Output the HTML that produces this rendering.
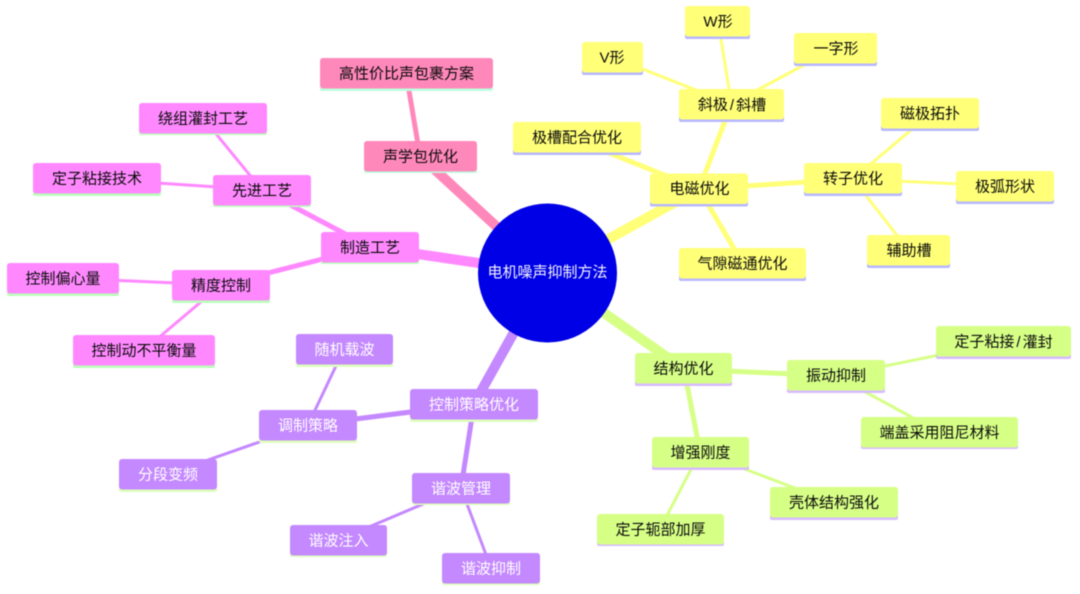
<!DOCTYPE html>
<html><head><meta charset="utf-8"><style>
html,body{margin:0;padding:0;background:#fff;width:1080px;height:594px;overflow:hidden}
svg{display:block;filter:blur(0.5px)}
text{font-family:"Liberation Sans","Noto Sans CJK SC",sans-serif;font-size:15px;text-anchor:middle;dominant-baseline:central}
.d{fill:#0a0a0a}.w{fill:#fff}
</style></head><body>
<svg width="1080" height="594" viewBox="0 0 1080 594" xmlns="http://www.w3.org/2000/svg">
<g fill="none" stroke-linecap="butt">
<g stroke="#ffff78">
<line x1="547" y1="273" x2="699" y2="189" stroke-width="10"/>
<line x1="699" y1="189" x2="731.5" y2="104" stroke-width="5"/>
<line x1="699" y1="189" x2="577" y2="140" stroke-width="5"/>
<line x1="699" y1="189" x2="853" y2="179" stroke-width="5"/>
<line x1="699" y1="189" x2="742.5" y2="263" stroke-width="5"/>
<line x1="731.5" y1="104" x2="612" y2="57" stroke-width="3"/>
<line x1="731.5" y1="104" x2="718" y2="21" stroke-width="3"/>
<line x1="731.5" y1="104" x2="835.5" y2="48" stroke-width="3"/>
<line x1="853" y1="179" x2="930" y2="114" stroke-width="3"/>
<line x1="853" y1="179" x2="1005" y2="186" stroke-width="3"/>
<line x1="853" y1="179" x2="908.5" y2="250" stroke-width="3"/>
</g>
<g stroke="#d6ff86">
<line x1="547" y1="273" x2="684" y2="369" stroke-width="10"/>
<line x1="684" y1="369" x2="836" y2="376" stroke-width="5"/>
<line x1="684" y1="369" x2="700" y2="452" stroke-width="5"/>
<line x1="836" y1="376" x2="1003" y2="342" stroke-width="3"/>
<line x1="836" y1="376" x2="939" y2="432" stroke-width="3"/>
<line x1="700" y1="452" x2="834" y2="503" stroke-width="3"/>
<line x1="700" y1="452" x2="660" y2="529" stroke-width="3"/>
</g>
<g stroke="#c488ff">
<line x1="547" y1="273" x2="474" y2="404" stroke-width="10"/>
<line x1="474" y1="404" x2="308" y2="425" stroke-width="5"/>
<line x1="474" y1="404" x2="461" y2="488" stroke-width="5"/>
<line x1="308" y1="425" x2="344" y2="349" stroke-width="3"/>
<line x1="308" y1="425" x2="168" y2="474" stroke-width="3"/>
<line x1="461" y1="488" x2="338" y2="540" stroke-width="3"/>
<line x1="461" y1="488" x2="491" y2="568" stroke-width="3"/>
</g>
<g stroke="#ff88ff">
<line x1="547" y1="273" x2="370" y2="247" stroke-width="10"/>
<line x1="370" y1="247" x2="262" y2="190" stroke-width="5"/>
<line x1="370" y1="247" x2="221" y2="285" stroke-width="5"/>
<line x1="262" y1="190" x2="203" y2="118" stroke-width="3"/>
<line x1="262" y1="190" x2="97" y2="179" stroke-width="3"/>
<line x1="221" y1="285" x2="63" y2="278" stroke-width="3"/>
<line x1="221" y1="285" x2="144" y2="350" stroke-width="3"/>
</g>
<g stroke="#ff88bb">
<line x1="547" y1="273" x2="420" y2="156" stroke-width="10"/>
<line x1="420" y1="156" x2="406" y2="73" stroke-width="5"/>
</g>
</g>
<circle cx="547.5" cy="273" r="69.5" fill="#0000e6"/>
<text x="547.5" y="272.5" fill="#f4f4ff">电机噪声抑制方法</text>

<g fill="#b8b8ff">
<rect x="650" y="177.5" width="98" height="29" rx="2"/><rect x="679" y="93" width="105" height="29" rx="2"/>
<rect x="513" y="126" width="128" height="29" rx="2"/><rect x="804" y="167" width="98" height="29" rx="2"/>
<rect x="679" y="252" width="127" height="29" rx="2"/><rect x="582" y="46" width="61" height="29" rx="2"/>
<rect x="685" y="10" width="65" height="29" rx="2"/><rect x="794" y="37" width="83" height="29" rx="2"/>
<rect x="881" y="102" width="98" height="29" rx="2"/><rect x="956" y="175" width="98" height="29" rx="2"/>
<rect x="867" y="239" width="83" height="29" rx="2"/>
</g>
<g fill="#d8bbff">
<rect x="635" y="357" width="97" height="29" rx="2"/><rect x="787" y="364" width="98" height="29" rx="2"/>
<rect x="936" y="330" width="135" height="29" rx="2"/><rect x="861" y="420" width="157" height="29" rx="2"/>
<rect x="652" y="441" width="97" height="29" rx="2"/><rect x="770" y="491" width="128" height="29" rx="2"/>
<rect x="597" y="517" width="127" height="29" rx="2"/>
</g>
<g fill="#ddffbb">
<rect x="296" y="338" width="97" height="29" rx="2"/><rect x="410" y="393" width="128" height="29" rx="2"/>
<rect x="259" y="414" width="98" height="29" rx="2"/><rect x="119" y="463" width="98" height="29" rx="2"/>
<rect x="412" y="476" width="98" height="29" rx="2"/><rect x="290" y="528" width="97" height="29" rx="2"/>
<rect x="442" y="556" width="98" height="29" rx="2"/>
</g>
<g fill="#bbffbb">
<rect x="321" y="235" width="98" height="29" rx="2"/><rect x="213" y="178" width="98" height="29" rx="2"/>
<rect x="139" y="106" width="128" height="29" rx="2"/><rect x="33" y="167" width="128" height="29" rx="2"/>
<rect x="172" y="274" width="98" height="29" rx="2"/><rect x="7" y="267" width="112" height="29" rx="2"/>
<rect x="73" y="339" width="142" height="29" rx="2"/>
</g>
<g fill="#bbffdd">
<rect x="364" y="144" width="113" height="29" rx="2"/><rect x="320" y="62" width="173" height="29" rx="2"/>
</g>

<g fill="#ffff78">
<rect x="650" y="173.5" width="98" height="30.5" rx="3"/><rect x="679" y="89" width="105" height="30.5" rx="3"/>
<rect x="513" y="122" width="128" height="30.5" rx="3"/><rect x="804" y="163" width="98" height="30.5" rx="3"/>
<rect x="679" y="248" width="127" height="30.5" rx="3"/><rect x="582" y="42" width="61" height="30.5" rx="3"/>
<rect x="685" y="6" width="65" height="30.5" rx="3"/><rect x="794" y="33" width="83" height="30.5" rx="3"/>
<rect x="881" y="98" width="98" height="30.5" rx="3"/><rect x="956" y="171" width="98" height="30.5" rx="3"/>
<rect x="867" y="235" width="83" height="30.5" rx="3"/>
</g>
<g fill="#d6ff86">
<rect x="635" y="353" width="97" height="30.5" rx="3"/><rect x="787" y="360" width="98" height="30.5" rx="3"/>
<rect x="936" y="326" width="135" height="30.5" rx="3"/><rect x="861" y="417" width="157" height="30.5" rx="3"/>
<rect x="652" y="437" width="97" height="30.5" rx="3"/><rect x="770" y="487" width="128" height="30.5" rx="3"/>
<rect x="597" y="514" width="127" height="30.5" rx="3"/>
</g>
<g fill="#c488ff">
<rect x="296" y="334" width="97" height="30.5" rx="3"/><rect x="410" y="389" width="128" height="30.5" rx="3"/>
<rect x="259" y="410" width="98" height="30.5" rx="3"/><rect x="119" y="459" width="98" height="30.5" rx="3"/>
<rect x="412" y="473" width="98" height="30.5" rx="3"/><rect x="290" y="525" width="97" height="30.5" rx="3"/>
<rect x="442" y="553" width="98" height="30.5" rx="3"/>
</g>
<g fill="#ff88ff">
<rect x="321" y="232" width="98" height="30.5" rx="3"/><rect x="213" y="175" width="98" height="30.5" rx="3"/>
<rect x="139" y="103" width="128" height="30.5" rx="3"/><rect x="33" y="163" width="128" height="30.5" rx="3"/>
<rect x="172" y="270" width="98" height="30.5" rx="3"/><rect x="7" y="263" width="112" height="30.5" rx="3"/>
<rect x="73" y="335" width="142" height="30.5" rx="3"/>
</g>
<g fill="#ff88bb">
<rect x="364" y="141" width="113" height="30.5" rx="3"/><rect x="320" y="58" width="173" height="30.5" rx="3"/>
</g>

<g class="d">
<text x="699.5" y="189">电磁优化</text><text x="732" y="105">斜极<tspan dx="2">/</tspan><tspan dx="2">斜槽</tspan></text>
<text x="577" y="138">极槽配合优化</text><text x="853" y="179">转子优化</text>
<text x="742.5" y="264">气隙磁通优化</text><text x="612" y="58">V形</text>
<text x="718" y="22">W形</text><text x="836" y="49">一字形</text>
<text x="930" y="114">磁极拓扑</text><text x="1005" y="187">极弧形状</text>
<text x="909" y="251">辅助槽</text>
<text x="683.5" y="369">结构优化</text><text x="836" y="376">振动抑制</text>
<text x="1003.5" y="342">定子粘接<tspan dx="2">/</tspan><tspan dx="2">灌封</tspan></text><text x="939.5" y="433">端盖采用阻尼材料</text>
<text x="700.5" y="453">增强刚度</text><text x="834" y="503">壳体结构强化</text>
<text x="660.5" y="530">定子轭部加厚</text>
<text x="370" y="248">制造工艺</text><text x="262" y="191">先进工艺</text>
<text x="203" y="119">绕组灌封工艺</text><text x="97" y="179">定子粘接技术</text>
<text x="221" y="286">精度控制</text><text x="63" y="279">控制偏心量</text>
<text x="144" y="351">控制动不平衡量</text>
<text x="420.5" y="157">声学包优化</text><text x="406.5" y="74">高性价比声包裹方案</text>
</g>
<g class="w">
<text x="344.5" y="350">随机载波</text><text x="474" y="405">控制策略优化</text>
<text x="308" y="426">调制策略</text><text x="168" y="475">分段变频</text>
<text x="461" y="489">谐波管理</text><text x="338.5" y="541">谐波注入</text>
<text x="491" y="569">谐波抑制</text>
</g>
</svg>
</body></html>
